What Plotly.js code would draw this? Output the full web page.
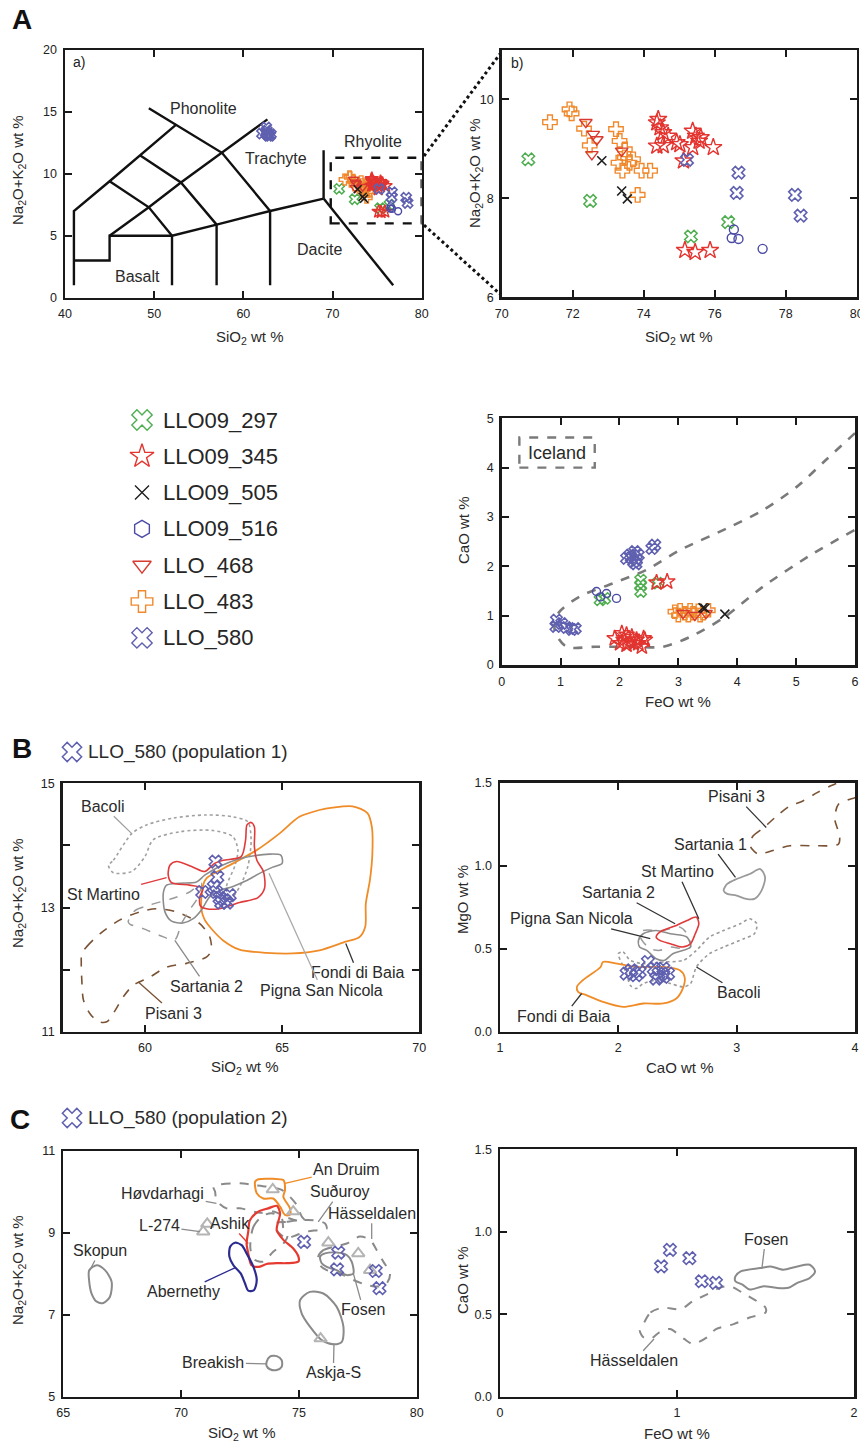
<!DOCTYPE html>
<html><head><meta charset="utf-8">
<script src="https://cdn.plot.ly/plotly-3.0.1.min.js"></script>
<style>html,body{margin:0;padding:0;background:#fff}#p{width:860px;height:1445px}</style>
</head><body><div id="p"></div>
<script>
// ---------------- DATA ----------------
// TAS classification boundaries (SiO2, Na2O+K2O), null = break
const tasSiO2 = [41,41,45,48.4,52.5,null, 41,45,45,52,57,63,69,null, 52,52,null, 57,57,null, 63,63,null,
  45,49.4,52,null, 48.4,53,57,null, 49.4,57.6,63,null, 45,49.4,53,57.6,62.7,null, 69,69,null, 69,76.8];
const tasAlk  = [1,7,9.4,11.5,14,null, 3,3,5,5,5.9,7,8,null, 1,5,null, 1,5.9,null, 1,7,null,
  9.4,7.3,5,null, 11.5,9.3,5.9,null, 15.3,11.7,7,null, 5,7.3,9.3,11.7,14.4,null, 8,11.9,null, 8,1];
const tasNames = ['Phonolite','Trachyte','Rhyolite','Dacite','Basalt'];
const tasNameSiO2 = [55.5,63.7,74.5,68.5,48.1];
const tasNameAlk  = [15.3,11.2,12.6,3.9,1.75];

// Panel A b) SiO2 vs Na2O+K2O
const s297_SiO2 = [70.75,72.49,76.38,75.33];
const s297_Alk  = [8.79,7.95,7.52,7.23];
const s345_SiO2 = [74.37,74.46,74.41,74.55,74.69,74.37,74.55,74.93,75.02,75.38,75.47,75.61,75.56,75.38,75.96,75.12,75.16,75.45,75.87];
const s345_Alk  = [9.53,9.43,9.6,9.33,9.26,9.06,9.07,9.13,9.09,9.36,9.26,9.23,9.16,9.03,9.03,8.76,6.95,6.91,6.95];
const s505_SiO2 = [72.82,73.38,73.54];
const s505_Alk  = [8.76,8.15,7.99];
const s516_SiO2 = [76.54,76.48,76.67,77.35];
const s516_Alk  = [7.37,7.2,7.18,6.98];
const s468_SiO2 = [72.37,72.58,72.68,72.54,73.38];
const s468_Alk  = [9.54,9.3,9.19,8.89,8.96];
const s483_SiO2 = [71.36,71.91,71.97,72.32,72.48,73.22,73.32,73.47,73.29,73.47,73.6,73.4,73.7,73.94,74.18,73.83];
const s483_Alk  = [9.54,9.8,9.72,9.41,9.07,9.4,9.16,8.99,8.72,8.83,8.72,8.56,8.79,8.56,8.56,8.07];
// LLO_580 population 2 (rhyolitic) and population 1 (trachytic)
const p2_SiO2 = [75.22,76.67,76.62,78.26,78.42];
const p2_Alk  = [8.78,8.52,8.11,8.07,7.65];
const p1_SiO2 = [62.57,62.64,62.51,62.09,62.6,62.72,62.9,63.09,62.78,62.99];
const p1_Alk  = [13.74,13.49,13.33,13.25,13.25,13.15,13.12,13.2,13.08,13.08];

// Panel A c) FeO vs CaO
const c297_FeO = [1.67,1.75,2.36,2.36,2.36,2.65];
const c297_CaO = [1.32,1.35,1.72,1.62,1.49,1.66];
const c345_FeO = [1.92,2.04,2.12,2.21,2.29,2.41,2.01,2.12,2.24,2.38,2.07,2.18,2.32,2.43,2.63,2.81];
const c345_CaO = [0.54,0.64,0.61,0.57,0.51,0.54,0.44,0.41,0.44,0.37,0.51,0.47,0.44,0.51,1.67,1.69];
const c505_FeO = [3.42,3.45,3.79];
const c505_CaO = [1.16,1.15,1.03];
const c516_FeO = [1.61,1.78,1.95,1.68];
const c516_CaO = [1.49,1.45,1.35,1.38];
const c468_FeO = [3.08,3.28,3.47];
const c468_CaO = [1.05,1.01,1.05];
const c483_FeO = [2.94,3.03,3.11,3.2,3.25,3.34,3.42,3.51,3.0,3.17,3.37];
const c483_CaO = [1.08,1.11,1.05,1.11,1.05,1.1,1.05,1.11,1.01,1.01,1.01];
const c580_FeO = [0.93,1.02,0.92,1.1,1.19,1.25,2.12,2.18,2.26,2.32,2.24,2.29,2.6,2.55,2.2,2.28];
const c580_CaO = [0.91,0.84,0.78,0.76,0.72,0.74,2.16,2.23,2.3,2.23,2.09,2.13,2.43,2.36,2.18,2.05];
const iceFeO = [6.0,5.5,5.01,4.44,3.88,3.03,2.46,1.9,1.33,0.96,0.9,1.1,1.6,2.2,2.74,3.2,3.76,4.44,5.29,6.0];
const iceCaO = [4.7,4.15,3.61,3.14,2.8,2.33,1.93,1.66,1.39,1.05,0.7,0.37,0.37,0.37,0.37,0.57,0.95,1.59,2.26,2.74];

// Panel B (population 1) envelopes: SiO2 vs Na2O+K2O
const bacoliSi = [58.67,58.85,59.52,60.06,61.03,62.24,63.21,63.75,63.87,63.75,63.45,63.09,62.97,63.27,63.39,63.21,62.48,61.27,60.3,60.0,59.52,58.85];
const bacoliAlk = [13.68,13.76,14.19,14.33,14.44,14.49,14.46,14.38,14.09,13.66,13.33,13.12,13.33,13.66,13.92,14.14,14.24,14.22,14.09,13.82,13.58,13.56];
const martinoSi = [60.91,61.15,61.76,62.18,62.54,62.85,63.51,63.67,63.72,63.87,63.99,63.99,64.08,64.32,64.36,64.12,63.45,62.72,62.24,62.03,62.0,62.12,61.63,60.97,60.85];
const martinoAlk = [13.68,13.74,13.65,13.58,13.71,13.76,13.82,14.09,14.33,14.37,14.3,13.98,13.76,13.58,13.31,13.16,13.08,12.98,12.98,13.02,13.17,13.31,13.36,13.4,13.52];
const fondiSi = [62.24,63.21,64.06,64.9,65.63,66.36,66.84,67.57,68.11,68.27,68.29,68.2,68.05,68.03,67.81,67.32,66.36,65.39,64.42,63.45,62.85,62.48,62.18,62.06,62.06,62.12];
const fondiAlk = [13.47,13.71,13.92,14.19,14.46,14.57,14.61,14.63,14.52,14.3,13.87,13.44,13.06,12.69,12.52,12.45,12.31,12.26,12.27,12.32,12.47,12.63,12.8,12.96,13.17,13.36];
const pignaSi = [60.67,60.79,61.27,61.88,62.18,62.72,63.33,63.93,64.54,64.96,65.0,64.66,64.18,63.69,63.21,62.72,62.36,62.06,61.76,61.39,60.97,60.73];
const pignaAlk = [13.23,13.36,13.39,13.41,13.52,13.66,13.77,13.83,13.86,13.84,13.71,13.65,13.55,13.43,13.34,13.27,13.17,12.96,12.82,12.75,12.78,12.93];
const sart2Si = [59.39,59.64,60.18,61.03,61.63,62.06,61.94,61.63,61.33,61.09,60.54,59.94,59.46];
const sart2Alk = [12.77,12.95,13.04,13.15,13.25,13.39,13.17,12.96,12.74,12.48,12.55,12.66,12.73];
const pisaniSi = [57.7,57.88,58.37,59.09,59.82,60.42,61.15,62.0,62.36,62.42,62.24,61.51,60.79,60.18,59.58,59.21,58.91,58.61,58.31,58.0,57.76,57.7,57.68];
const pisaniAlk = [12.26,12.37,12.58,12.8,12.93,12.98,12.93,12.74,12.53,12.31,12.2,12.1,12.04,11.88,11.75,11.56,11.34,11.16,11.16,11.29,11.51,11.83,12.1];

// Panel B right: CaO vs MgO
const p1_CaO = [2.07,2.11,2.15,2.18,2.25,2.3,2.34,2.38,2.42,2.32,2.38];
const p1_MgO = [0.35,0.37,0.34,0.36,0.42,0.38,0.35,0.38,0.35,0.32,0.33];
const pisaniCa = [3.11,3.14,3.23,3.34,3.45,3.56,3.68,3.79,3.9,4.04,4.04,4.0,3.86,3.83,3.87,3.86,3.65,3.45,3.25,3.18,3.13];
const pisaniMg = [1.13,1.18,1.23,1.3,1.36,1.39,1.44,1.48,1.51,1.52,1.42,1.41,1.37,1.28,1.18,1.13,1.12,1.12,1.08,1.07,1.1];
const sart1Ca = [2.89,2.92,3.0,3.11,3.2,3.24,3.21,3.15,3.08,3.0,2.92];
const sart1Mg = [0.85,0.89,0.92,0.95,0.98,0.93,0.85,0.8,0.8,0.82,0.83];
const martinoCa = [2.32,2.35,2.49,2.58,2.66,2.68,2.65,2.61,2.54,2.44,2.35];
const martinoMg = [0.57,0.6,0.64,0.67,0.69,0.65,0.59,0.53,0.51,0.53,0.55];
const sart2Ca = [2.18,2.21,2.38,2.52,2.58,2.61,2.55,2.44,2.35,2.27,2.2];
const sart2Mg = [0.59,0.61,0.61,0.63,0.59,0.51,0.5,0.51,0.49,0.5,0.55];
const pignaCa = [2.17,2.21,2.32,2.44,2.58,2.61,2.55,2.46,2.39,2.32,2.24,2.18];
const pignaMg = [0.55,0.59,0.61,0.59,0.57,0.51,0.49,0.47,0.43,0.44,0.49,0.51];
const bacoliCa = [2.0,2.04,2.1,2.21,2.38,2.55,2.66,2.77,2.89,3.03,3.11,3.17,3.15,3.06,2.89,2.77,2.66,2.61,2.55,2.44,2.32,2.21,2.15,2.1,2.07,2.03];
const bacoliMg = [0.47,0.48,0.43,0.41,0.42,0.43,0.49,0.57,0.61,0.65,0.68,0.65,0.59,0.56,0.51,0.47,0.39,0.29,0.27,0.29,0.31,0.29,0.26,0.28,0.35,0.41];
const fondiCa = [1.65,1.7,1.85,1.87,1.99,2.15,2.38,2.52,2.56,2.55,2.49,2.38,2.21,2.04,1.87,1.73,1.66];
const fondiMg = [0.27,0.31,0.39,0.42,0.41,0.39,0.39,0.37,0.33,0.27,0.2,0.17,0.17,0.15,0.18,0.22,0.24];

// Panel C (population 2)
const triSi = [73.89,74.76,70.94,71.11,76.25,77.52,78.02,75.92];
const triAlk = [10.06,9.52,9.03,9.22,8.76,8.5,8.09,6.42];
const druimSi = [73.14,73.28,73.91,74.34,74.41,74.34,74.62,74.62,74.41,74.2,73.91,73.49,73.21,73.14];
const druimAlk = [10.25,10.31,10.32,10.29,10.05,9.88,9.6,9.44,9.44,9.64,9.84,9.84,9.97,10.13];
const hovSi = [71.37,71.72,72.5,73.07,73.63,74.27,74.62,74.91,75.12,75.26,74.91,74.48,73.91,73.35,72.5,71.93,71.51,71.44];
const hovAlk = [10.13,10.19,10.21,10.17,10.13,10.05,9.88,9.68,9.4,9.3,9.3,9.38,9.52,9.49,9.6,9.6,9.79,10.01];
const sudSi = [73.99,74.48,75.05,75.61,76.11,76.18,75.82,75.33,74.91,74.48,74.2,73.99];
const sudAlk = [9.23,9.27,9.31,9.31,9.23,9.11,9.07,9.03,8.95,8.87,8.97,9.11];
const ashikSi = [72.85,72.92,73.28,73.7,74.06,74.2,74.06,74.34,74.76,74.98,74.98,74.48,74.06,73.63,73.28,72.99,72.85,72.78];
const ashikAlk = [9.03,9.31,9.52,9.6,9.66,9.48,9.07,8.83,8.62,8.42,8.3,8.26,8.26,8.24,8.17,8.21,8.5,8.74];
const innerSi = [72.95,73.07,73.42,73.84,74.27,74.34,74.51,74.34,73.91,73.49,73.14,72.95];
const innerAlk = [8.83,9.15,9.4,9.48,9.36,9.11,8.91,8.74,8.54,8.3,8.34,8.58];
const aberSi = [72.08,72.29,72.57,72.78,73.07,73.21,73.09,72.85,72.71,72.53,72.22,72.05];
const aberAlk = [8.66,8.76,8.7,8.5,8.17,7.85,7.6,7.59,7.77,8.01,8.21,8.42];
const hassSi = [75.82,76.04,76.46,77.03,77.59,78.02,78.3,78.58,78.87,78.73,78.37,77.88,77.31,76.74,76.18,75.9];
const hassAlk = [8.42,8.58,8.66,8.74,8.91,8.83,8.58,8.3,8.01,7.77,7.69,7.73,7.85,8.01,8.09,8.21];
const fosenSi = [75.9,76.11,76.6,77.03,77.24,77.31,77.03,76.6,76.18,75.97];
const fosenAlk = [8.42,8.5,8.52,8.46,8.3,8.01,7.97,8.09,8.17,8.26];
const askjaSi = [75.05,75.47,76.04,76.6,76.89,76.82,76.46,75.97,75.47,75.12];
const askjaAlk = [7.36,7.56,7.52,7.2,6.71,6.34,6.28,6.38,6.71,7.03];
const breakSi = [73.63,73.77,74.06,74.27,74.27,74.06,73.77,73.63];
const breakAlk = [5.85,5.98,5.99,5.89,5.73,5.65,5.67,5.75];
const skopSi = [66.1,66.42,66.77,67.05,66.98,66.7,66.42,66.2,66.1];
const skopAlk = [8.09,8.21,8.09,7.81,7.44,7.29,7.32,7.52,7.81];

// Panel C right: FeO vs CaO
const p2_FeO = [0.91,0.96,1.07,1.14,1.22];
const p2_CaO = [0.79,0.89,0.84,0.7,0.69];
const fosenFe = [1.33,1.36,1.47,1.53,1.6,1.68,1.75,1.78,1.75,1.68,1.63,1.56,1.49,1.41,1.37,1.33];
const fosenCa = [0.73,0.76,0.78,0.79,0.77,0.79,0.8,0.76,0.72,0.69,0.66,0.66,0.67,0.65,0.68,0.7];
const hassFe = [0.81,0.85,0.92,1.02,1.09,1.17,1.24,1.3,1.37,1.45,1.5,1.5,1.41,1.32,1.22,1.17,1.09,1.04,0.96,0.9,0.85,0.81,0.79];
const hassCa = [0.44,0.51,0.54,0.53,0.58,0.62,0.66,0.67,0.63,0.58,0.54,0.51,0.48,0.44,0.41,0.36,0.32,0.35,0.41,0.39,0.35,0.36,0.4];

const sampleNames = ['LLO09_297','LLO09_345','LLO09_505','LLO09_516','LLO_468','LLO_483','LLO_580'];

// ---------------- STYLE ----------------
const FONT = 'Liberation Sans, Arial, Helvetica, sans-serif';
const W = 860, H = 1445;
const MK = {
  s297: {symbol:'x-open', color:'#4fae4f', lw:1.5},
  s345: {symbol:'star-open', color:'#e3342f', lw:1.4},
  s505: {symbol:'x-thin', color:'#1e1e1e', lw:1.6},
  s516: {symbol:'circle-open', color:'#4b4ba6', lw:1.4},
  s468: {symbol:'triangle-down-open', color:'#d93a30', lw:1.4},
  s483: {symbol:'cross-open', color:'#f0892d', lw:1.4},
  s580: {symbol:'x-open', color:'#6060b0', lw:1.6}
};
const legendKeys = ['s297','s345','s505','s516','s468','s483','s580'];
const legendSym = {s516:'hexagon-open'};

function dx(a,b){return [a/W, b/W];}
function dy(top,bot){return [1-bot/H, 1-top/H];}
function axis(dom, range, o){
  return Object.assign({domain:dom, range:range, showgrid:false, zeroline:false, showline:true,
    linecolor:'#1a1a1a', linewidth:2.5, mirror:'ticks', ticks:'inside', ticklen:7, tickwidth:2,
    tickcolor:'#1a1a1a', tickfont:{family:FONT, size:12.5, color:'#222'}, ticklabelstandoff:3,
    ticklabeloverflow:'allow', fixedrange:true}, o||{});
}
function pts(xa, ya, key, size, ax, sym){
  const m = MK[key];
  return {type:'scatter', mode:'markers', x:xa, y:ya, xaxis:'x'+ax, yaxis:'y'+ax, showlegend:false, hoverinfo:'skip',
    marker:{symbol:sym||m.symbol, size:size, color:m.color, line:{color:m.color, width:m.lw}}};
}
function env(xa, ya, ax, color, dash, width, closed){
  const x = closed===false ? xa : xa.concat([xa[0]]);
  const y = closed===false ? ya : ya.concat([ya[0]]);
  return {type:'scatter', mode:'lines', x:x, y:y, xaxis:'x'+ax, yaxis:'y'+ax, showlegend:false, hoverinfo:'skip',
    line:{color:color, dash:dash, width:width, shape:'spline', smoothing:0.8}};
}

const traces = [];
// A a) TAS
traces.push({type:'scatter', mode:'lines', x:tasSiO2, y:tasAlk, xaxis:'x', yaxis:'y', showlegend:false, hoverinfo:'skip', connectgaps:false,
  line:{color:'#111', width:2.4}});
traces.push(pts(s297_SiO2, s297_Alk, 's297', 9, ''));
traces.push(pts(s483_SiO2, s483_Alk, 's483', 9, ''));
traces.push(pts(s468_SiO2, s468_Alk, 's468', 9, ''));
traces.push(pts(s345_SiO2, s345_Alk, 's345', 10, ''));
traces.push(pts(s516_SiO2, s516_Alk, 's516', 7, ''));
traces.push(pts(s505_SiO2, s505_Alk, 's505', 8, ''));
traces.push(pts(p2_SiO2, p2_Alk, 's580', 9, ''));
traces.push(pts(p1_SiO2, p1_Alk, 's580', 9, ''));
// A b)
traces.push(pts(s297_SiO2, s297_Alk, 's297', 11, '2'));
traces.push(pts(s483_SiO2, s483_Alk, 's483', 12, '2'));
traces.push(pts(s468_SiO2, s468_Alk, 's468', 11, '2'));
traces.push(pts(s345_SiO2, s345_Alk, 's345', 13, '2'));
traces.push(pts(s516_SiO2, s516_Alk, 's516', 9, '2'));
traces.push(pts(s505_SiO2, s505_Alk, 's505', 9, '2'));
traces.push(pts(p2_SiO2, p2_Alk, 's580', 11, '2'));
// A c)
traces.push(env(iceFeO, iceCaO, '3', '#7a7a7a', 'dash', 2.6, false));
traces.push(pts(c297_FeO, c297_CaO, 's297', 10, '3'));
traces.push(pts(c516_FeO, c516_CaO, 's516', 8, '3'));
traces.push(pts(c483_FeO, c483_CaO, 's483', 11, '3'));
traces.push(pts(c468_FeO, c468_CaO, 's468', 11, '3'));
traces.push(pts(c345_FeO, c345_CaO, 's345', 12, '3'));
traces.push(pts(c505_FeO, c505_CaO, 's505', 9, '3'));
traces.push(pts(c580_FeO, c580_CaO, 's580', 10, '3'));
// B left
traces.push(env(bacoliSi, bacoliAlk, '4', '#a0a0a0', 'dot', 1.6));
traces.push(env(pisaniSi, pisaniAlk, '4', '#7a5234', 'dash', 1.6));
traces.push(env(sart2Si, sart2Alk, '4', '#9a9a9a', 'dash', 1.5));
traces.push(env(fondiSi, fondiAlk, '4', '#f08c28', 'solid', 1.8));
traces.push(env(pignaSi, pignaAlk, '4', '#8c8c8c', 'solid', 1.6));
traces.push(env(martinoSi, martinoAlk, '4', '#e03a3a', 'solid', 1.6));
traces.push(pts(p1_SiO2, p1_Alk, 's580', 11, '4'));
// B right
traces.push(env(pisaniCa, pisaniMg, '5', '#7a5234', 'dash', 1.6));
traces.push(env(sart1Ca, sart1Mg, '5', '#9a9a9a', 'solid', 1.8));
traces.push(env(bacoliCa, bacoliMg, '5', '#9a9a9a', 'dot', 1.6));
traces.push(env(sart2Ca, sart2Mg, '5', '#9a9a9a', 'dash', 1.5));
traces.push(env(pignaCa, pignaMg, '5', '#8c8c8c', 'solid', 1.6));
traces.push(env(martinoCa, martinoMg, '5', '#e03a3a', 'solid', 1.6));
traces.push(env(fondiCa, fondiMg, '5', '#f08c28', 'solid', 1.8));
traces.push(pts(p1_CaO, p1_MgO, 's580', 11, '5'));
// C left
traces.push(env(hovSi, hovAlk, '6', '#8a8a8a', 'dash', 2));
traces.push(env(sudSi, sudAlk, '6', '#8a8a8a', 'dash', 2));
traces.push(env(innerSi, innerAlk, '6', '#8a8a8a', 'dash', 2));
traces.push(env(hassSi, hassAlk, '6', '#8a8a8a', 'dash', 2));
traces.push(env(fosenSi, fosenAlk, '6', '#8a8a8a', 'solid', 2));
traces.push(env(askjaSi, askjaAlk, '6', '#8a8a8a', 'solid', 2));
traces.push(env(breakSi, breakAlk, '6', '#8a8a8a', 'solid', 2));
traces.push(env(skopSi, skopAlk, '6', '#8a8a8a', 'solid', 2));
traces.push(env(druimSi, druimAlk, '6', '#f08c28', 'solid', 2));
traces.push(env(ashikSi, ashikAlk, '6', '#e53a30', 'solid', 2.2));
traces.push(env(aberSi, aberAlk, '6', '#2b2b90', 'solid', 2.2));
traces.push({type:'scatter', mode:'markers', x:triSi, y:triAlk, xaxis:'x6', yaxis:'y6', showlegend:false, hoverinfo:'skip',
  marker:{symbol:'triangle-up-open', size:11, color:'#b4b4b4', line:{color:'#b4b4b4', width:2}}});
traces.push(pts(p2_SiO2, p2_Alk, 's580', 11, '6'));
// C right
traces.push(env(fosenFe, fosenCa, '7', '#8a8a8a', 'solid', 2));
traces.push(env(hassFe, hassCa, '7', '#8a8a8a', 'dash', 2));
traces.push(pts(p2_FeO, p2_CaO, 's580', 11, '7'));

// Legend (drawn on a page-pixel overlay axis)
const legX = 142, legY0 = 420, legStep = 36.3;
legendKeys.forEach((k,i)=>{
  const m = MK[k];
  const sz = {s505:14, s516:17, s468:16}[k] || 18;
  traces.push({type:'scatter', mode:'markers', x:[legX], y:[legY0+i*legStep], xaxis:'x8', yaxis:'y8', showlegend:false, hoverinfo:'skip',
    marker:{symbol:legendSym[k]||m.symbol, size:sz, color:m.color, line:{color:m.color, width:1.4}}});
});
[752,1118].forEach(yy=>{
  traces.push({type:'scatter', mode:'markers', x:[72], y:[yy], xaxis:'x8', yaxis:'y8', showlegend:false, hoverinfo:'skip',
    marker:{symbol:'x-open', size:17, color:MK.s580.color, line:{color:MK.s580.color, width:1.5}}});
});

// ---------------- ANNOTATIONS ----------------
const ann = [];
function txt(x,y,t,ref,o){ ann.push(Object.assign({x:x,y:y,text:t,xref:'x'+ref,yref:'y'+ref,showarrow:false,
  xanchor:'center', yanchor:'middle', font:{family:FONT,size:16,color:'#2a2a2a'}}, o||{})); }
function lead(tx,ty,x,y,t,ref,col){ ann.push({x:x,y:y,ax:tx,ay:ty,xref:'x'+ref,yref:'y'+ref,axref:'x'+ref,ayref:'y'+ref,
  text:t,showarrow:true,arrowhead:0,arrowwidth:1.3,arrowcolor:col,standoff:0,
  font:{family:FONT,size:16,color:'#2a2a2a'}}); }
function pg(x,y,t,o){ ann.push(Object.assign({x:x/W,y:1-y/H,text:t,xref:'paper',yref:'paper',showarrow:false,
  xanchor:'center', yanchor:'middle', font:{family:FONT,size:15,color:'#2a2a2a'}}, o||{})); }

tasNames.forEach((n,i)=>txt(tasNameSiO2[i], tasNameAlk[i], n, ''));
txt(40.7, 19.0, 'a)', '', {xanchor:'left', font:{family:FONT,size:14,color:'#222'}});
txt(70.2, 10.74, 'b)', '2', {xanchor:'left', font:{family:FONT,size:14,color:'#222'}});
txt(0.94, 4.3, 'Iceland', '3', {font:{family:FONT,size:18,color:'#2a2a2a'}});

lead(58.49,14.63,59.52,14.19,'Bacoli','4','#a0a0a0');
lead(58.49,13.21,60.79,13.48,'St Martino','4','#e03a3a');
lead(62.24,11.73,61.09,12.47,'Sartania 2','4','#8a8a8a');
lead(61.03,11.3,59.76,11.8,'Pisani 3','4','#7a5234');
lead(67.75,11.95,67.32,12.42,'Fondi di Baia','4','#333');
lead(66.45,11.67,64.52,13.55,'Pigna San Nicola','4','#aaaaaa');

lead(3.0,1.416,3.25,1.23,'Pisani 3','5','#333');
lead(2.78,1.13,2.99,0.93,'Sartania 1','5','#333');
lead(2.5,0.964,2.68,0.68,'St Martino','5','#333');
lead(2.0,0.837,2.48,0.65,'Sartania 2','5','#333');
lead(1.6,0.679,2.27,0.56,'Pigna San Nicola','5','#333');
lead(3.02,0.235,2.66,0.39,'Bacoli','5','#333');
lead(1.54,0.094,1.69,0.23,'Fondi di Baia','5','#333');

lead(77.03,10.56,74.41,10.21,'An Druim','6','#f08c28');
lead(69.22,9.97,71.5,9.72,'Høvdarhagi','6','#8a8a8a');
lead(76.74,10.01,75.82,9.27,'Suðuroy','6','#8a8a8a');
lead(78.09,9.48,78.09,8.85,'Hässeldalen','6','#8a8a8a');
lead(69.08,9.17,70.8,9.03,'L-274','6','#8a8a8a');
lead(72.08,9.23,72.85,8.74,'Ashik','6','#e53a30');
lead(66.56,8.57,66.13,8.09,'Skopun','6','#8a8a8a');
lead(70.09,7.56,72.33,8.16,'Abernethy','6','#2b2b90');
lead(77.74,7.12,77.31,8.01,'Fosen','6','#8a8a8a');
lead(76.46,5.58,76.49,6.3,'Askja-S','6','#8a8a8a');
lead(71.37,5.83,73.63,5.8,'Breakish','6','#8a8a8a');

lead(1.5,0.956,1.48,0.78,'Fosen','7','#8a8a8a');
lead(0.757,0.218,0.87,0.35,'Hässeldalen','7','#8a8a8a');

// axis titles
pg(250,337,'SiO<sub>2</sub> wt %');
pg(679,337,'SiO<sub>2</sub> wt %');
pg(678,701,'FeO wt %');
pg(245,1067,'SiO<sub>2</sub> wt %');
pg(680,1067,'CaO wt %');
pg(242,1433,'SiO<sub>2</sub> wt %');
pg(677,1433,'FeO wt %');
pg(18,170,'Na<sub>2</sub>O+K<sub>2</sub>O wt %',{textangle:-90});
pg(475,173,'Na<sub>2</sub>O+K<sub>2</sub>O wt %',{textangle:-90});
pg(463,530,'CaO wt %',{textangle:-90});
pg(18,893,'Na<sub>2</sub>O+K<sub>2</sub>O wt %',{textangle:-90});
pg(462,900,'MgO wt %',{textangle:-90});
pg(18,1270,'Na<sub>2</sub>O+K<sub>2</sub>O wt %',{textangle:-90});
pg(462,1280,'CaO wt %',{textangle:-90});
// panel letters & headers
pg(22,20,'<b>A</b>',{font:{family:FONT,size:28,color:'#111'}});
pg(22,748,'<b>B</b>',{font:{family:FONT,size:28,color:'#111'}});
pg(20,1119,'<b>C</b>',{font:{family:FONT,size:28,color:'#111'}});
pg(86,752,'LLO_580 (population 1)',{xanchor:'left',font:{family:FONT,size:19,color:'#2a2a2a'}});
pg(86,1118,'LLO_580 (population 2)',{xanchor:'left',font:{family:FONT,size:19,color:'#2a2a2a'}});
// legend labels
sampleNames.forEach((n,i)=>pg(161, legY0+i*legStep, n, {xanchor:'left', font:{family:FONT,size:22,color:'#262626'}}));

// ---------------- SHAPES ----------------
const shapes = [
  {type:'rect', xref:'x', yref:'y', x0:69.8, x1:80, y0:6, y1:11.3, line:{color:'#111', width:2.4, dash:'dash'}},
  {type:'rect', xref:'x3', yref:'y3', x0:0.3, x1:1.58, y0:4.0, y1:4.61, line:{color:'#7a7a7a', width:2.4, dash:'dash'}},
  {type:'line', xref:'paper', yref:'paper', x0:424/W, y0:1-156/H, x1:500/W, y1:1-54/H, line:{color:'#111', width:3, dash:'dot'}},
  {type:'line', xref:'paper', yref:'paper', x0:424/W, y0:1-225/H, x1:500/W, y1:1-294/H, line:{color:'#111', width:3, dash:'dot'}}
];

const layout = {
  width:W, height:H, margin:{l:0,r:0,t:0,b:0}, paper_bgcolor:'#fff', plot_bgcolor:'rgba(0,0,0,0)',
  showlegend:false, font:{family:FONT, color:'#222'},
  xaxis: axis(dx(65,421.7), [40,80], {anchor:'y', dtick:10, tick0:40}),
  yaxis: axis(dy(50,297.7), [0,20], {anchor:'x', dtick:5, tick0:0}),
  xaxis2: axis(dx(501.7,856.7), [70,80], {anchor:'y2', dtick:2, tick0:70}),
  yaxis2: axis(dy(50,297.3), [6,11], {anchor:'x2', tickvals:[6,8,10]}),
  xaxis3: axis(dx(501.7,855), [0,6], {anchor:'y3', dtick:1, tick0:0}),
  yaxis3: axis(dy(418.3,665), [0,5], {anchor:'x3', dtick:1, tick0:0}),
  xaxis4: axis(dx(62.6,419.3), [57,70], {anchor:'y4', tickvals:[60,65,70]}),
  yaxis4: axis(dy(783.3,1031.7), [11,15], {anchor:'x4', tickvals:[11,13,15],
     minor:{tickvals:[12,14], ticks:'inside', ticklen:7, tickwidth:2, tickcolor:'#1a1a1a'}}),
  xaxis5: axis(dx(500,855), [1,4], {anchor:'y5', dtick:1, tick0:1}),
  yaxis5: axis(dy(782.7,1031.7), [0,1.5], {anchor:'x5', dtick:0.5, tick0:0, tickformat:'.1f'}),
  xaxis6: axis(dx(63.3,416.7), [65,80], {anchor:'y6', dtick:5, tick0:65}),
  yaxis6: axis(dy(1151,1396.7), [5,11], {anchor:'x6', dtick:2, tick0:5}),
  xaxis7: axis(dx(500,854), [0,2], {anchor:'y7', dtick:1, tick0:0}),
  yaxis7: axis(dy(1149.3,1396.7), [0,1.5], {anchor:'x7', dtick:0.5, tick0:0, tickformat:'.1f'}),
  xaxis8: {domain:[0,1], range:[0,W], visible:false, fixedrange:true, anchor:'y8'},
  yaxis8: {domain:[0,1], range:[H,0], visible:false, fixedrange:true, anchor:'x8'},
  annotations: ann, shapes: shapes
};
Plotly.newPlot('p', traces, layout, {staticPlot:true, displayModeBar:false});
</script></body></html>
